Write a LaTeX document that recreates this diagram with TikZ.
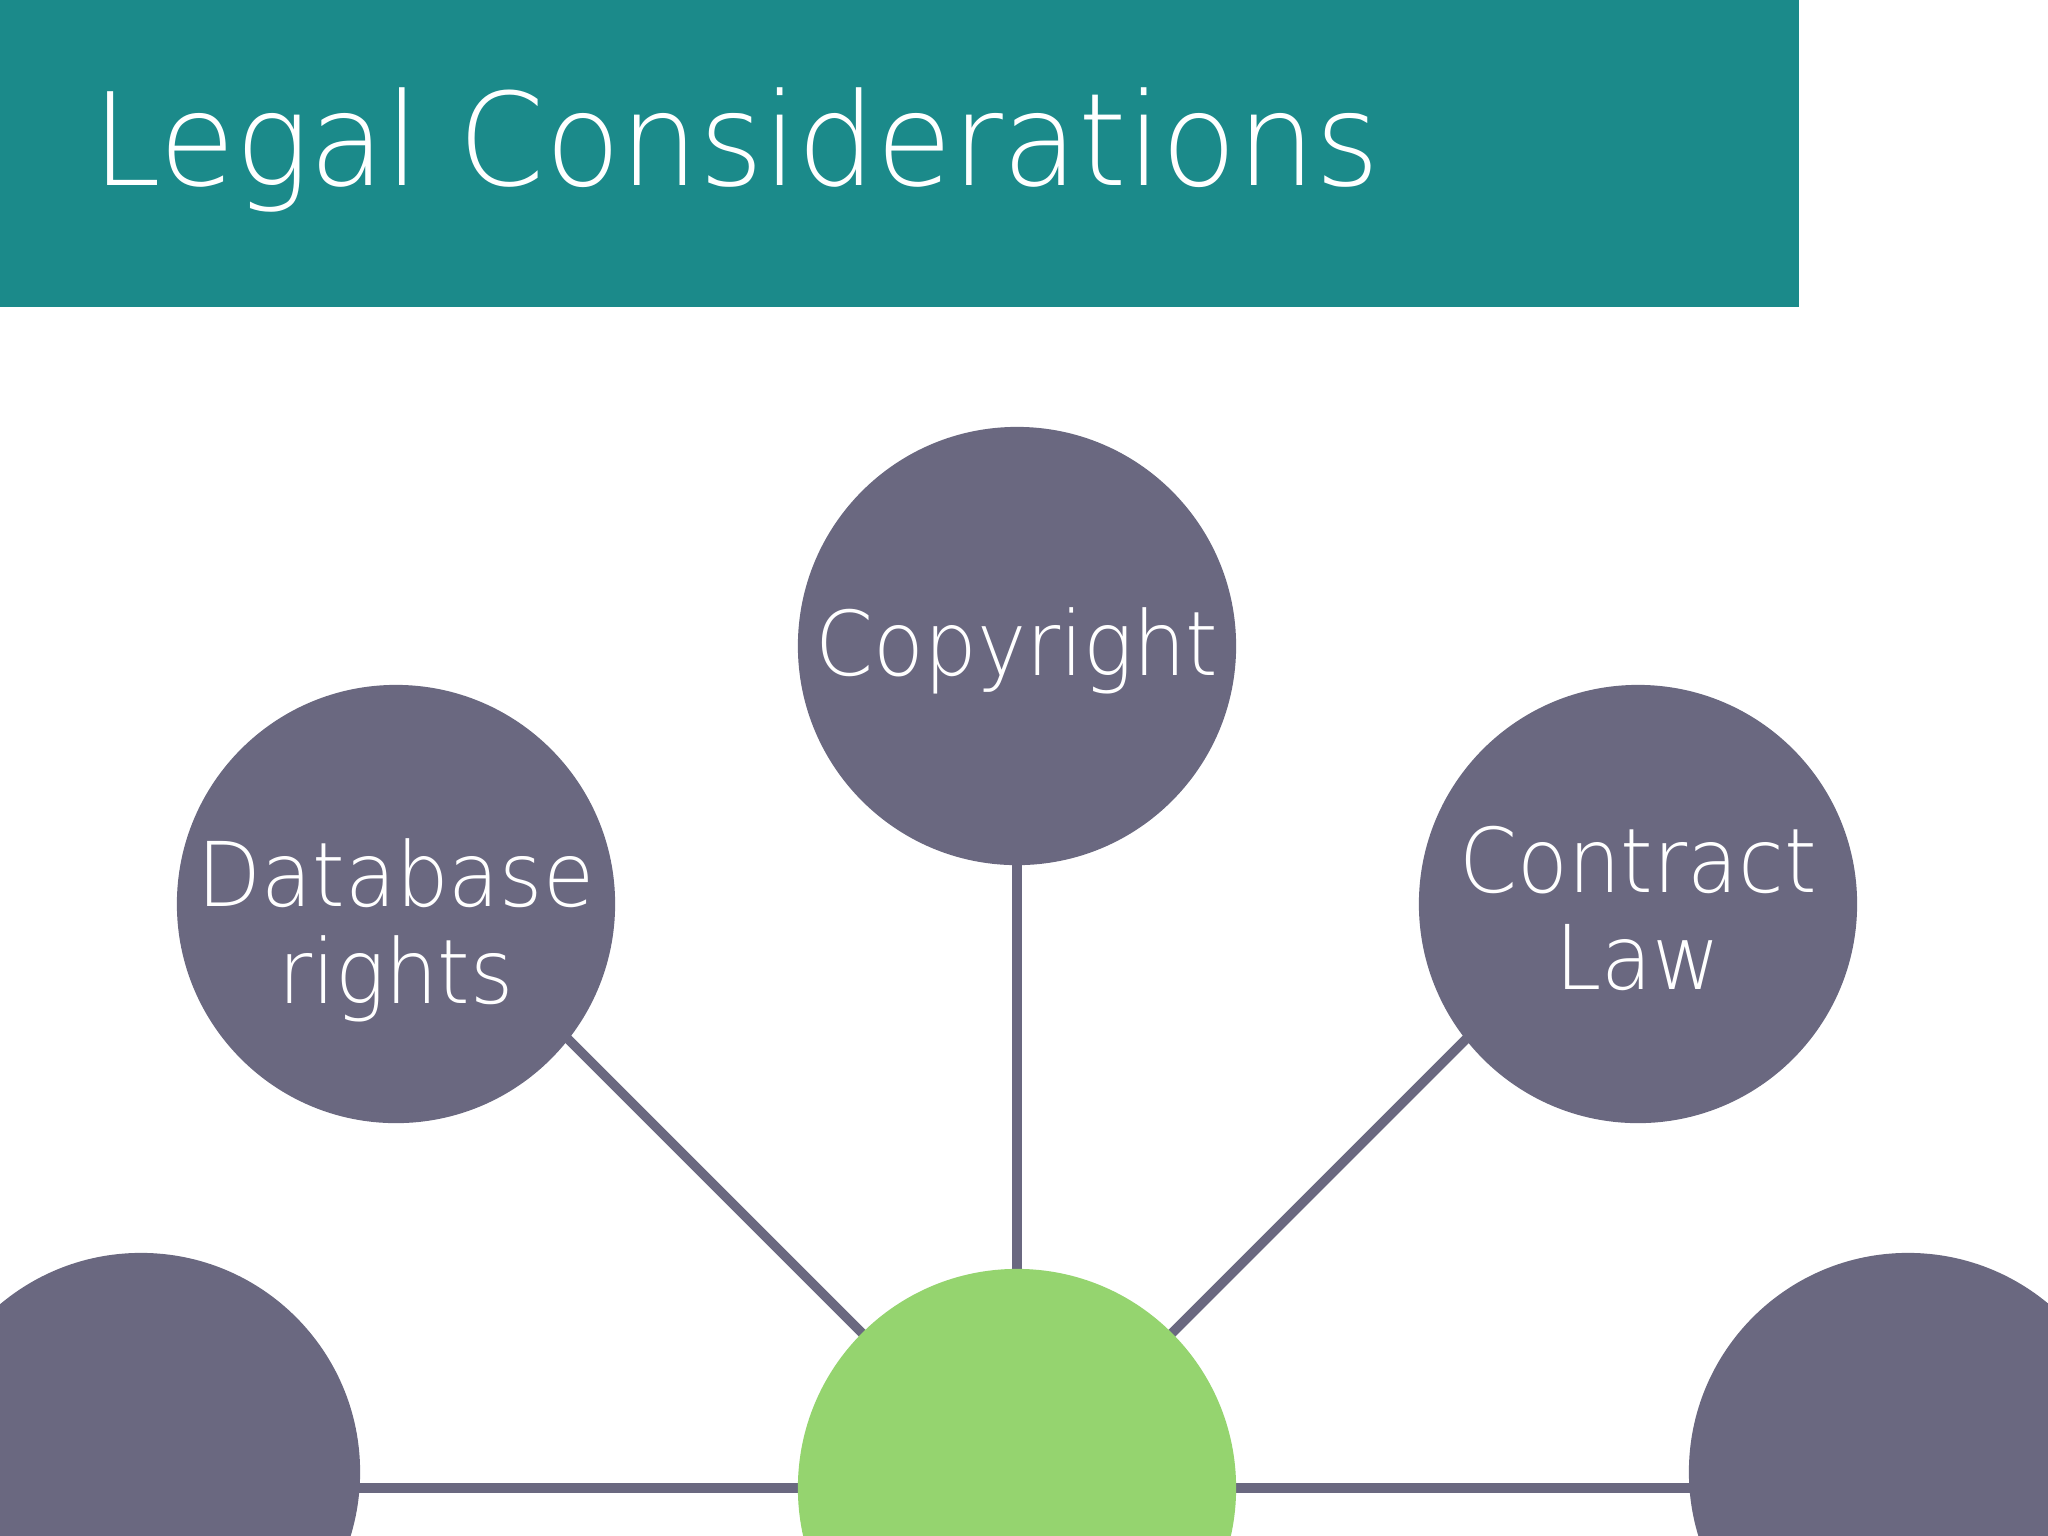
\documentclass[tikz,border=0pt]{standalone}
\usepackage{fontspec}
\setmainfont{DejaVu Sans ExtraLight}
\newfontfamily\titlefont[FakeStretch=0.96]{DejaVu Sans ExtraLight}
\newfontfamily\labelfont[FakeStretch=0.93]{DejaVu Sans ExtraLight}
\usetikzlibrary{backgrounds}
\definecolor{teal1}{HTML}{1B8A8A}
\definecolor{slate}{HTML}{6A6880}
\definecolor{lgreen}{HTML}{95D46F}
\tikzset{
  topic/.style={circle, fill=slate, minimum size=4.38cm, inner sep=0pt},
  lbl/.style={text=white, align=center, inner sep=0pt,
    font=\labelfont\fontsize{25.4}{27.6}\selectfont},
  hubnode/.style={circle, fill=lgreen, minimum size=4.38cm, inner sep=0pt},
  link/.style={draw=slate, line width=2.7pt},
  hlink/.style={draw=slate, line width=3.1pt},
}
\begin{document}
\begin{tikzpicture}[x=0.01cm,y=-0.01cm]
\useasboundingbox (0,0) rectangle (2048,1535);
\clip (0,0) rectangle (2048,1535);

\node[topic] (copy) at (1017,646) {};
\node[topic] (db) at (396,904) {};
\node[topic] (contract) at (1638,904) {};
\node[hubnode] (hub) at (1017,1488) {};
\node[topic] (bl) at (141,1472) {};
\node[topic] (br) at (1908,1472) {};

\node[lbl] (copytext) at (1017,651) {Copyright};
\node[lbl] (dbtext) at (396,930) {Database\\rights};
\node[lbl] (contracttext) at (1638,908) {Contract\\Law};

\begin{pgfonlayer}{background}
\fill[white] (0,0) rectangle (2048,1535);
\fill[teal1] (0,0) rectangle (1799,307);
\node[anchor=base west, text=white, inner sep=0pt, font=\titlefont\fontsize{36.6}{40}\selectfont] (title) at (92,185) {Legal Considerations};
\draw[link] (hub.center) -- (copy.center);
\draw[link] (hub.center) -- ++(-600,-600) coordinate (dbend);
\draw[link] (hub.center) -- ++(600,-600) coordinate (contractend);
\draw[hlink] (hub.center) -- (hub.center -| bl.center);
\draw[hlink] (hub.center) -- (hub.center -| br.center);
\end{pgfonlayer}
\end{tikzpicture}
\end{document}
